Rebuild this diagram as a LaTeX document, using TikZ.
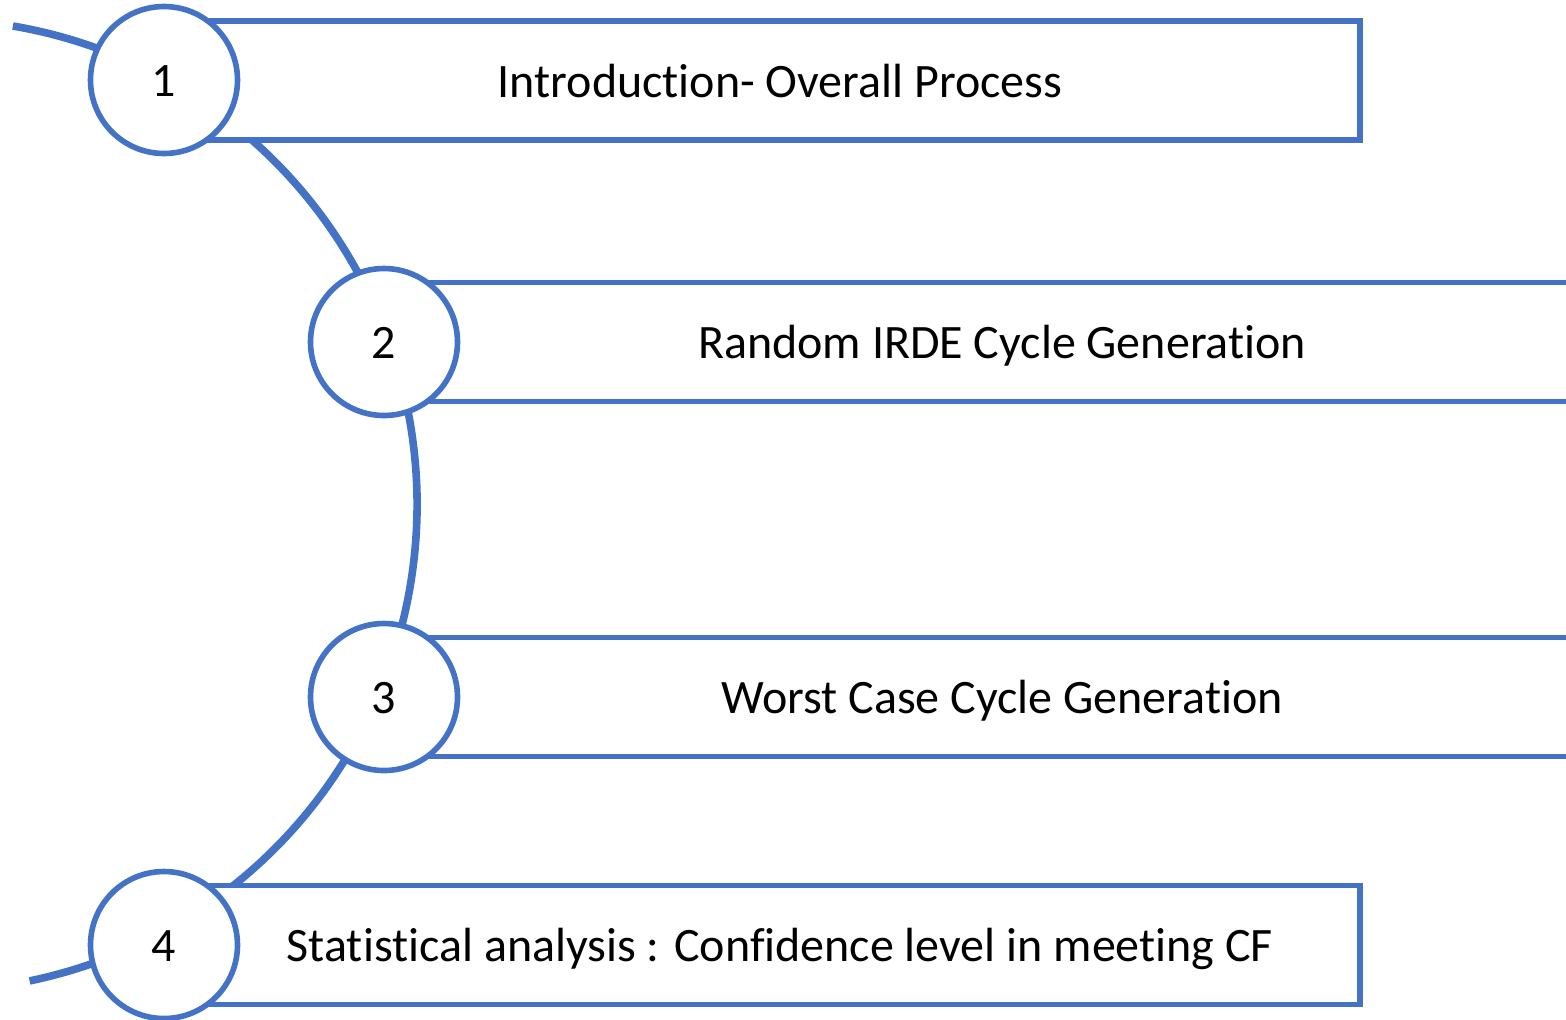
\documentclass[tikz,border=0pt]{standalone}
\usepackage{fontspec}
\setmainfont[RawFeature=-liga]{Carlito}
\definecolor{accblue}{HTML}{4472C4}
\begin{document}
\begin{tikzpicture}[x=0.5pt,y=-0.5pt,
  numcirc/.style={circle,draw=accblue,fill=white,line width=2.8pt,minimum size=73.5pt,inner sep=0pt,text height=16.5pt,text depth=0pt,font=\fontsize{24pt}{28pt}\selectfont},
  stepbox/.style={rectangle,draw=accblue,fill=white,line width=2.8pt,inner sep=0pt,minimum height=59.5pt,text height=16.5pt,text depth=0pt,font=\fontsize{24pt}{28pt}\selectfont},
  bigarc/.style={draw=accblue,line width=3.8pt}]
\fill[white] (0,0) rectangle (1566,1019);
\useasboundingbox (0,0) rectangle (1566,1019);
% background arc through the step circles
\coordinate (arcstart) at (12.9,26);
\draw[bigarc] (arcstart) arc[start angle=-80.3,end angle=78.3,radius=486];
% boxes
\node[stepbox,minimum width=580pt] (b1) at (780,80.5) {Introduction- Overall Process};
\node[stepbox,minimum width=582pt] (b2) at (1002,342) {Random IRDE Cycle Generation};
\node[stepbox,minimum width=582pt] (b3) at (1002,697) {Worst Case Cycle Generation};
\node[stepbox,minimum width=580pt] (b4) at (780,945) {Statistical analysis : Confidence level in meeting CF};
% circles
\node[numcirc] (c1) at (164,80) {1};
\node[numcirc] (c2) at (384,342) {2};
\node[numcirc] (c3) at (384,697) {3};
\node[numcirc] (c4) at (164,945) {4};
\end{tikzpicture}
\end{document}
